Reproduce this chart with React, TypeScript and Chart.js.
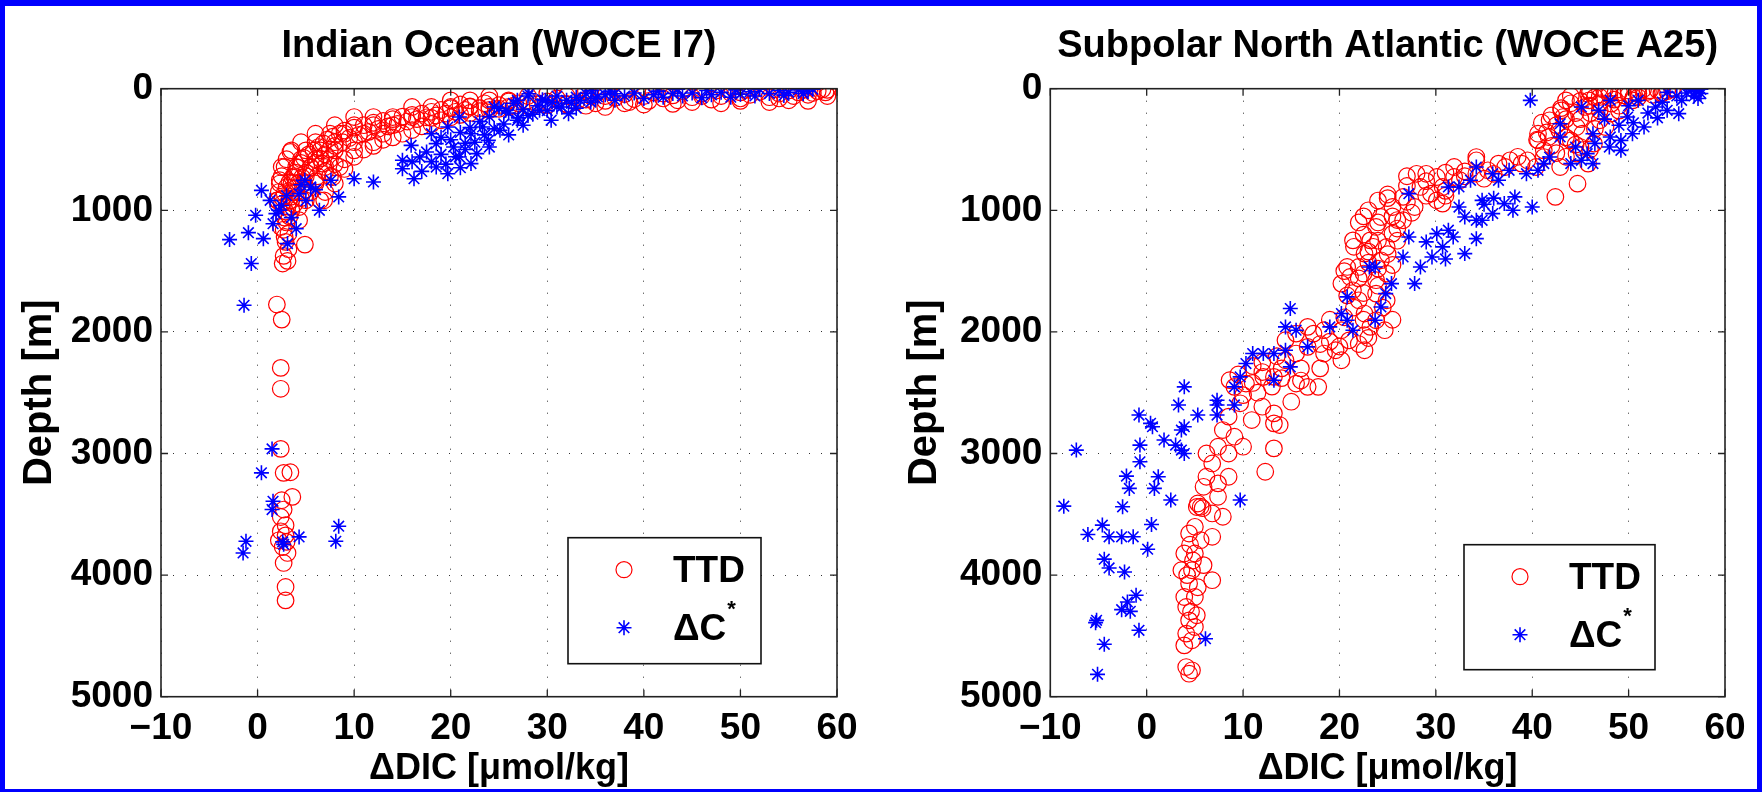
import React, { useEffect, useRef } from "react";
import { Chart, registerables } from "chart.js";

Chart.register(...registerables);

// ---------- data: [ΔDIC (µmol/kg), depth (m)] ----------
const xTicks = [-10, 0, 10, 20, 30, 40, 50, 60];
const yTicks = [0, 1000, 2000, 3000, 4000, 5000];

const indianTitle = "Indian Ocean (WOCE I7)";
const atlanticTitle = "Subpolar North Atlantic (WOCE A25)";
const legendLabels = ["TTD", "ΔC"];

const indianTTD: number[][] = [
  [58.5,5],[58,20],[57.5,35],[57,50],[56.5,10],[56,30],[55.5,60],[55,15],[54,40],[53.5,5],[53,70],[52,25],[51,50],[50.5,10],[50,80],[49,35],[48,60],[47.5,15],[47,90],[46,40],[45,70],[44,20],[43.5,95],[43,55],[42,80],[41,30],[40.5,100],[40,60],[39,85],[38.5,110],[38,45],[37,75],[36,100],[35,120],[34.5,60],[34,90],[33,110],[32,125],[31,80],[30,105],[29,130],[28,95],[27,120],[26.5,140],[26,105],[25,135],[24,150],[23.5,120],[23,160],[22,145],[21.5,175],[21,130],[20.5,190],[20,160],[19.5,205],[19,175],[18.5,220],[18,190],[17.5,235],[17,205],[16.5,250],[16,215],[15.5,270],[15,230],[14.5,290],[14,250],[13.5,310],[13,265],[12.5,330],[12,280],[11.5,355],[11,300],[10.5,380],[10,320],[9.5,405],[9,345],[8.8,440],[8.5,370],[8,470],[7.8,395],[7.5,500],[7.2,420],[7,540],[6.8,450],[6.5,575],[6.3,480],[6,610],[5.8,510],[5.5,650],[5.3,540],[5,690],[4.8,570],[4.6,730],[4.5,610],[4.3,770],[4.2,650],[4,810],[3.9,690],[3.7,850],[3.6,730],[3.4,890],[3.3,770],[3.2,930],[3.0,810],[3.1,970],[2.8,860],[2.9,1010],[2.6,900],[2.8,1060],[2.5,950],[3.4,520],[2.3,753],[2.5,644],[6.7,616],[7.8,726],[6.9,918],[4.3,973],[2.0,918],[4.3,1082],[2.4,1137],[3.2,1192],[2.8,1219],[4.9,1282],[2.7,1375],[3.1,1416],[2.6,1438],
  [10,560],[11,500],[12,470],[13,420],[14,400],[15,370],[16,340],[17,310],[18,290],[19,260],[20,235],[21,215],[22,200],[23,185],[24,175],[25,165],[26,150],[28,140],[30,135],[32,130],[34,140],[36,150],[38,120],[40,130],[43,125],[45,110],[48,120],[50,100],[53,110],[55,95],[57,100],[59,60],[58.8,30],[59,10],[8,620],[9,660],[7,680],[6,760],[5,830],[4.5,900],[3.8,950],[3.5,1000],[3.3,1050],[3,1100],[2.7,1160],[2.9,1260],[3.2,1320],
  [10,233],[12,233],[14,233],[16,233],[18,240],[8,300],[10,300],[12,300],[14,300],[6,370],[7.5,370],[9,370],[11,370],[13,370],[4.5,440],[6,440],[8,440],[10,440],[12,440],[3.5,507],[5,507],[6.5,507],[8,507],[10,507],[3,580],[4.5,580],[6,580],[7.5,580],[9,580],[2.8,644],[4,644],[5.5,644],[7,644],[8.5,644],[2.5,720],[3.8,720],[5,720],[6.2,720],[7.5,720],[2.3,780],[3.5,780],[4.8,780],[6,780],[8,780],[2.2,850],[4,850],[5.5,850],[7,850],[2.1,918],[3.5,918],[5,918],[6.5,918],[16,150],[18,150],[20,150],[22,150],[20,96],[22,96],[24,96],[26,96],[24,60],[28,60],[32,60],[36,60],[42,40],[46,60],[50,30],[54,80],[30,40],[34,20],[38,15],
  [2.0,1775],[2.5,1899],[2.4,2296],[2.4,2468],[2.4,2962],[2.7,3159],[3.4,3154],[3.6,3357],[2.5,3384],[2.7,3461],[2.4,3522],[2.9,3590],[2.4,3640],[2.9,3673],[2.2,3714],[3.0,3727],[2.6,3769],[3.1,3818],[2.7,3900],[2.9,4098],[2.9,4208],
];

const indianDC: number[][] = [
  [57.5,5],[57,20],[56.5,40],[56,10],[55,30],[54.5,55],[54,15],[53,40],[52,5],[51.5,60],[51,25],[50,45],[49.5,10],[49,70],[48,30],[47,50],[46.5,15],[46,75],[45,35],[44,60],[43.5,5],[43,40],[42,70],[41.5,20],[41,50],[40,80],[39,35],[38,60],[37,95],[36.5,20],[36,50],[35,80],[34.5,110],[34,40],[33,70],[32.5,120],[32,95],[31.5,150],[31,60],[30.5,110],[30,180],[29.5,90],[29,140],[28.5,210],[28,60],[27.5,170],[27,240],[26.5,120],[26,200],[25.5,290],[25,160],[24.5,330],[24,230],[23.5,380],[23,270],[22.5,440],[22,320],[21.5,500],[21,360],[20.5,560],[20,420],[19.5,620],[19.7,699],[18.5,644],[16.8,562],[15,589],[15,658],[15.9,466],[16.2,740],[18,370],[19.7,315],[20.9,233],[22.1,616],[22.7,534],[23.9,425],[25.1,342],[26.9,260],[29.2,178],[30.4,260],[32.2,205],[33.4,96],[35.2,68],[37,41],[29.8,96],[25.7,178],[22.1,370],[20.3,480],[18.5,452],[20.9,562],[23.3,315],[24.5,150],[26.9,96],[28.1,41],[34.6,14],[21,650],[18,600],[17.5,520],[19,540],[17,680],[16,600],[19,400],[21.5,450],[24,480],[26,380],[27.5,300],[28,220],[31,150],[33,160],
  [12,767],[10,740],[8.4,890],[7.6,753],[6.4,1000],[5.5,808],[4.9,753],[4.3,863],[4,1151],[3.1,1274],[1.6,1110],[0.4,836],[1.3,918],[1.9,1027],[-0.2,1041],[-0.95,1184],[0.6,1233],[-2.9,1241],[-0.65,1438],[-1.4,1781],[2.5,960],[3,880],[4.5,790],[2.2,1000],[3.5,1060],[5,920],[6,830],
  [1.5,2962],[0.4,3159],[1.6,3393],[1.5,3461],[8.4,3598],[8.1,3722],[4.3,3686],[2.6,3727],[2.7,3747],[-1.2,3722],[-1.5,3818],
];

const atlanticTTD: number[][] = [
  [54.5,5],[54,20],[53.5,35],[53,10],[52.5,50],[52,25],[51.5,5],[51,40],[50.5,70],[50,15],[49.5,55],[49,30],[48.5,90],[48,50],[47.5,10],[47,120],[46.5,70],[46,30],[45.5,150],[45,100],[44.5,200],[44,60],[43.5,250],[43,160],[42.5,300],[42,220],[41.5,360],[41,280],[40.5,420],[41.2,507],[40.6,370],[41.8,260],[43,178],[43.5,96],[45.9,14],[47,0],[45.9,96],[44.6,315],[44,425],[42.8,342],[41.7,397],[44.6,534],[46.4,452],[47.6,315],[48.2,205],[50.4,96],[52.2,14],[54.6,0],[53.4,41],[51,41],[45.8,41],[47,68],[48.2,123],[43.2,233],[45.2,370],[45.8,616],[42.4,890],[44.7,781],[40.6,425],[41.2,562],[42.9,644],[40.4,644],[46,200],[47,260],[45,480],[43.5,560],[42,470],[39.5,589],[36.5,616],[37.7,589],[34.2,562],[38.5,560],
  [44,120],[46,140],[45,250],[46.5,330],[43.5,400],[44.5,460],[42.5,530],[47,180],[49,140],[51,70],[50,50],[48,20],[49,180],[46,500],
  [31.9,644],[30.1,726],[28.4,808],[26.6,890],[25.5,973],[24.3,1055],[23.8,1137],[23.2,1247],[22.6,1356],[22,1466],[21.1,1548],[21.4,1658],[22,1740],[22.6,1849],[23.2,1959],[24.7,1986],[23.8,1904],[24.9,1740],[23.8,1575],[24.9,1521],[24.3,1411],[24.9,1301],[25.5,1192],[26.6,1082],[27.8,973],[29.5,863],[30.7,808],[32.5,753],[34.2,699],[35.4,671],[37.2,644],[38.9,616],[30.7,945],[30.1,918],[31.9,726],[34.2,589],[21.4,1247],[20.8,1466],[20.2,1603],[23.8,1685],[22.6,2027],[20.2,1986],[18.4,1986],[17.3,2014],[15.5,2014],[16.7,2123],[15.5,2178],[14.4,2233],[13.2,2370],[12.1,2370],[10.3,2425],[9.1,2452],[8.6,2397],[15.5,2425],[16.7,2452],[17.8,2452],[19.6,2151],[20.2,2233],[22.6,2151],[18.4,2178],[16.7,1959],[14.4,2068],[22,1100],[23,1000],[24,920],[25,870],[27,800],[29,760],[22.5,1200],[23.5,1300],[22,1560],[21.5,1800],[22.5,1900],[23,1430],[24,1620],[25.5,1050],[28,700],[33,680],[36,700],[31,840],[26,1150],[24,1250],[11,2280],[12,2330],[10,2520],[11.5,2500],[14,2300],[13,2450],[19,2080],[21,2070],
  [27,720],[29,700],[31,690],[33,720],[35,740],[25,900],[27,930],[29,880],[31,880],[22.5,1050],[24,1100],[26,1080],[27.5,1020],[21.5,1300],[23,1340],[25,1360],[26,1250],[20.5,1500],[22.5,1520],[24,1480],[25.5,1450],[20.8,1700],[22.5,1680],[24.5,1800],[25.5,1900],[19,1900],[20.5,1880],[18,2100],[20,2120],[22,2100],[23,2050],[12,2250],[13.5,2200],[16,2300],[18,2300],[9.5,2350],[11,2420],[14,2380],[16,2400],
  [9.7,2587],[12,2615],[13.2,2670],[13.8,2766],[15,2574],[13.2,2752],[10.9,2725],[8.5,2697],[7.9,2807],[9.1,2862],[10,2944],[13.2,2958],[12.3,3150],[8.5,3000],[7.4,2944],[6.2,3000],[6.8,3082],[6.2,3191],[7.4,3246],[8.5,3191],[5.9,3274],[5.3,3411],[5.6,3438],[7.4,3356],[7.9,3520],[6.8,3493],[5,3603],[4.4,3658],[5.6,3713],[6.8,3685],[3.9,3822],[5,3822],[5.9,3918],[3.6,3960],[4.7,3960],[6.8,4042],[4.4,4070],[3.9,4180],[5,4180],[4.1,4262],[4.4,4372],[5,4427],[4.1,4481],[3.9,4578],[4.7,4536],[4.1,4756],[4.4,4811],[4.7,4783],[5.2,3440],[5.8,3450],[4.5,3750],[4.8,3880],[4.2,4000],[5.3,4100],[4.6,4300],[5.2,4330],
];

const atlanticDC: number[][] = [
  [57.5,5],[57,20],[57.5,40],[56.8,60],[57.2,80],[56.5,10],[56,35],[55.5,96],[54,178],[55.2,205],[52.8,150],[51,96],[49.9,233],[51.6,315],[50.4,370],[49.2,425],[49.2,507],[48.1,397],[48.1,96],[46.9,178],[46.3,370],[45.7,534],[46.3,616],[45.1,589],[44,616],[45.1,150],[42.9,397],[42.9,288],[39.8,96],[41.2,616],[40.6,671],[41.8,562],[53,240],[52,200],[50.5,280],[49,300],[47.5,250],[46.5,450],[48,480],[44.5,480],[50,140],[53.5,110],[55,60],[54,30],
  [40,973],[38.2,890],[37.1,945],[35.9,1027],[34.8,1082],[34.8,918],[36.5,753],[35.9,699],[37.6,671],[39.4,699],[34.2,644],[33.6,753],[32.4,808],[31.3,808],[32.4,973],[33,1055],[34.2,1082],[33,1356],[31.8,1219],[30.7,1301],[30.1,1192],[31.3,1164],[34.2,1233],[29.6,1384],[28.4,1466],[27.8,1603],[26.6,1384],[27.2,1219],[27.2,863],[25.4,1603],[24.8,1685],[24.3,1795],[23.7,1904],[23.7,1466],[23.1,1466],[20.8,1712],[20.2,1849],[20.8,1904],[19,1959],[21.4,1986],[14.9,1808],[14.4,1959],[15.5,1986],[16.7,2123],[14.4,2151],[13.2,2178],[12.1,2178],[11,2178],[10.3,2260],[9.7,2370],[9.1,2452],[13.2,2397],[14.9,2288],[3.9,2452],[7.3,2562],[36,900],[38,1000],[35,950],[29,1260],[31,1400],
  [3.3,2601],[7.3,2601],[9.1,2601],[5.3,2684],[7.3,2684],[-0.8,2684],[0.4,2752],[0.6,2780],[3.9,2780],[3.6,2807],[1.8,2889],[3,2931],[3.6,2972],[3.9,3000],[-0.7,2931],[-7.3,2972],[-0.7,3068],[-2.1,3186],[-1.8,3287],[1.2,3191],[0.8,3287],[2.5,3383],[9.7,3383],[-2.5,3438],[-8.6,3433],[-4.6,3589],[-6.1,3666],[-3.9,3685],[-2.6,3685],[-1.4,3685],[0.5,3584],[0.1,3787],[-4.4,3869],[-3.9,3941],[-2.3,3974],[-1.1,4166],[-2,4221],[-2.6,4284],[-1.7,4298],[-5.2,4372],[-5.3,4391],[-0.8,4454],[-4.4,4569],[-5.1,4816],[6.1,4523],
];

const FONT = "'Liberation Sans', Arial, Helvetica, sans-serif";
const RED = "#ff0000";
const BLUE = "#0000ff";

function drawStar(ctx: CanvasRenderingContext2D, x: number, y: number, r: number) {
  ctx.beginPath();
  ctx.moveTo(x - r, y); ctx.lineTo(x + r, y);
  ctx.moveTo(x, y - r); ctx.lineTo(x, y + r);
  const d = r * Math.SQRT1_2;
  ctx.moveTo(x - d, y - d); ctx.lineTo(x + d, y + d);
  ctx.moveTo(x - d, y + d); ctx.lineTo(x + d, y - d);
  ctx.stroke();
}

const matlabPlugin = {
  id: "matlabAxes",
  afterDraw(chart: any, _args: any, opts: any) {
    const ctx = chart.ctx as CanvasRenderingContext2D;
    const ca = chart.chartArea;
    const xs = chart.scales.x;
    const ys = chart.scales.y;
    ctx.save();
    ctx.strokeStyle = "#222";
    ctx.lineWidth = 1.3;
    const tl = 7;
    ctx.beginPath();
    xs.ticks.forEach((t: any) => {
      const px = xs.getPixelForValue(t.value);
      ctx.moveTo(px, ca.bottom); ctx.lineTo(px, ca.bottom - tl);
      ctx.moveTo(px, ca.top); ctx.lineTo(px, ca.top + tl);
    });
    ys.ticks.forEach((t: any) => {
      const py = ys.getPixelForValue(t.value);
      ctx.moveTo(ca.left, py); ctx.lineTo(ca.left + tl, py);
      ctx.moveTo(ca.right, py); ctx.lineTo(ca.right - tl, py);
    });
    ctx.stroke();
    ctx.lineWidth = 1.6;
    ctx.strokeRect(ca.left, ca.top, ca.right - ca.left, ca.bottom - ca.top);

    const bw = opts.width, bh = opts.height;
    const bx = ca.right - opts.right - bw;
    const by = ca.bottom - opts.bottom - bh;
    ctx.fillStyle = "#fff";
    ctx.fillRect(bx, by, bw, bh);
    ctx.lineWidth = 1.6;
    ctx.strokeStyle = "#111";
    ctx.strokeRect(bx, by, bw, bh);
    const mx = bx + 56;
    const r1 = by + 32;
    const r2 = by + 90;
    ctx.strokeStyle = RED;
    ctx.lineWidth = 1.2;
    ctx.beginPath();
    ctx.arc(mx, r1, 8, 0, Math.PI * 2);
    ctx.stroke();
    ctx.strokeStyle = BLUE;
    ctx.lineWidth = 1.6;
    drawStar(ctx, mx, r2, 7.5);
    ctx.fillStyle = "#000";
    ctx.textBaseline = "middle";
    ctx.textAlign = "left";
    ctx.font = `bold 37px ${FONT}`;
    ctx.fillText(legendLabels[0], bx + 105, r1 + 2);
    ctx.fillText(legendLabels[1], bx + 105, r2 + 2);
    const w = ctx.measureText(legendLabels[1]).width;
    ctx.font = `bold 22px ${FONT}`;
    ctx.fillText("*", bx + 105 + w + 1, r2 - 18);
    ctx.restore();
  },
};

function makeConfig(title: string, ttd: number[][], dc: number[][], yAxisWidth: number, rightPad: number, yTitlePad: number, legend: any) {
  return {
    type: "scatter" as const,
    data: {
      datasets: [
        {
          label: "ΔC*",
          data: dc.map((p) => ({ x: p[0], y: p[1] })),
          pointStyle: "star",
          pointRadius: 7.5,
          pointBorderWidth: 1.6,
          pointBorderColor: BLUE,
          pointBackgroundColor: BLUE,
          borderColor: BLUE,
          backgroundColor: BLUE,
          order: 0,
        },
        {
          label: "TTD",
          data: ttd.map((p) => ({ x: p[0], y: p[1] })),
          pointStyle: "circle",
          pointRadius: 8.3,
          pointBorderWidth: 1.2,
          pointBorderColor: RED,
          pointBackgroundColor: "rgba(0,0,0,0)",
          borderColor: RED,
          backgroundColor: "rgba(0,0,0,0)",
          order: 1,
        },
      ],
    },
    options: {
      responsive: false,
      animation: false,
      events: [],
      layout: { padding: { left: 0, right: rightPad, top: 0, bottom: 0 } },
      plugins: {
        legend: { display: false },
        tooltip: { enabled: false },
        title: {
          display: true,
          fullSize: false,
          text: title,
          color: "#000",
          font: { family: FONT, size: 38, weight: "bold" },
          padding: { top: 23.5, bottom: 19.6 },
        },
        matlabAxes: legend,
      },
      scales: {
        x: {
          type: "linear",
          position: "bottom",
          min: -10,
          max: 60,
          afterBuildTicks: (s: any) => { s.ticks = xTicks.map((v) => ({ value: v })); },
          afterFit: (s: any) => { s.height = 95.3; },
          ticks: {
            autoSkip: false,
            maxRotation: 0,
            color: "#000",
            padding: 10,
            font: { family: FONT, size: 37, weight: "bold" },
            callback: (v: any) => (v < 0 ? "\u2212" + Math.abs(v) : String(v)),
          },
          grid: { color: "#333", lineWidth: 1, drawTicks: false },
          border: { display: false, dash: [1, 11] },
          title: {
            display: true,
            text: "ΔDIC [μmol/kg]",
            color: "#000",
            font: { family: FONT, size: 36, weight: "bold" },
            padding: { top: 0, bottom: 1 },
          },
        },
        y: {
          type: "linear",
          position: "left",
          reverse: true,
          min: 0,
          max: 5000,
          afterBuildTicks: (s: any) => { s.ticks = yTicks.map((v) => ({ value: v })); },
          afterFit: (s: any) => { s.width = yAxisWidth; },
          ticks: {
            autoSkip: false,
            color: "#000",
            padding: 8,
            font: { family: FONT, size: 37, weight: "bold" },
            callback: (v: any) => String(v),
          },
          grid: { color: "#333", lineWidth: 1, drawTicks: false },
          border: { display: false, dash: [1, 11] },
          title: {
            display: true,
            text: "Depth [m]",
            color: "#000",
            font: { family: FONT, size: 40, weight: "bold" },
            padding: { top: yTitlePad, bottom: 0 },
          },
        },
      },
    },
    plugins: [matlabPlugin],
  };
}

export default function App() {
  const leftRef = useRef<HTMLCanvasElement>(null);
  const rightRef = useRef<HTMLCanvasElement>(null);

  useEffect(() => {
    const c1 = new Chart(
      leftRef.current!,
      makeConfig(indianTitle, indianTTD, indianDC, 161, 165, 16, { right: 76, bottom: 33, width: 193, height: 126 }) as any
    );
    const c2 = new Chart(
      rightRef.current!,
      makeConfig(atlanticTitle, atlanticTTD, atlanticDC, 160.3, 160, 11, { right: 70, bottom: 27, width: 191, height: 125 }) as any
    );
    return () => {
      c1.destroy();
      c2.destroy();
    };
  }, []);

  return (
    <div style={{ position: "fixed", left: 0, top: 0, width: 1762, height: 792, overflow: "hidden", background: "#0000ff" }}>
      <div style={{ position: "absolute", left: 5, top: 6, width: 1752, height: 783, background: "#fff" }} />
      <canvas ref={leftRef} width={1002} height={792} style={{ position: "absolute", left: 0, top: 0, width: 1002, height: 792 }} />
      <canvas ref={rightRef} width={995} height={792} style={{ position: "absolute", left: 890, top: 0, width: 995, height: 792 }} />
    </div>
  );
}
